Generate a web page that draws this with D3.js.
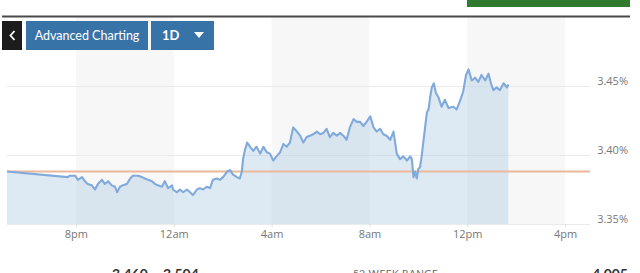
<!DOCTYPE html>
<html>
<head>
<meta charset="utf-8">
<script src="https://cdn.jsdelivr.net/npm/d3@7"></script>
<style>
  body { margin: 0; background: #fff; }
  svg { display: block; }
  .axis text { font-family: "Open Sans", sans-serif; font-size: 11px; fill: #777; }
  .btn { font-family: Lato, sans-serif; fill: #fff; }
</style>
</head>
<body>
<svg width="640" height="273"></svg>
<script>
const width = 640
const height = 273

// intraday yield, times (after 17:00 = first day, before = next day)
const times = ["17:11","19:40","19:45","19:58","20:05","20:15","20:22","20:29","20:39","20:47","20:54",
  "21:04","21:11","21:19","21:28","21:36","21:41","21:48","21:55","22:05","22:13","22:20","22:32",
  "22:42","22:49","22:57","23:07","23:14","23:21","23:31","23:38","23:46","23:56","23:58",
  "00:08","00:15","00:23","00:32","00:40","00:47","00:57","01:04","01:12","01:21","01:29","01:36",
  "01:46","01:53","02:01","02:11","02:18","02:25","02:35","02:42","02:47","02:50","02:55","03:00",
  "03:07","03:15","03:23","03:32","03:40","03:48","03:56","04:04","04:12","04:21","04:29","04:37",
  "04:45","04:53","05:02","05:10","05:18","05:26","05:34","05:42","05:51","05:59","06:07","06:15",
  "06:23","06:31","06:40","06:48","06:56","07:04","07:12","07:21","07:29","07:37","07:45","07:53",
  "08:02","08:10","08:18","08:26","08:34","08:42","08:51","08:59","09:07","09:15","09:23","09:32",
  "09:40","09:44","09:48","09:52","09:56","10:00","10:04","10:08","10:12","10:21","10:25","10:29",
  "10:33","10:38","10:43","10:49","10:57","11:05","11:14","11:26","11:34","11:42","11:50","11:57",
  "12:03","12:11","12:19","12:27","12:35","12:44","12:52","12:58","13:04","13:12","13:20","13:29",
  "13:37","13:41"]
const yields = [3.388,3.384,3.385,3.385,3.382,3.384,3.381,3.379,3.378,3.375,3.379,
  3.382,3.379,3.381,3.378,3.377,3.373,3.377,3.378,3.379,3.383,3.385,3.385,
  3.384,3.383,3.382,3.381,3.379,3.378,3.377,3.381,3.376,3.378,3.375,
  3.373,3.375,3.373,3.375,3.373,3.371,3.375,3.376,3.375,3.377,3.376,3.382,
  3.383,3.382,3.384,3.388,3.389,3.386,3.384,3.383,3.388,3.397,3.404,3.409,
  3.406,3.403,3.406,3.401,3.406,3.402,3.401,3.396,3.399,3.402,3.408,3.406,
  3.409,3.420,3.417,3.414,3.409,3.413,3.414,3.415,3.417,3.415,3.416,3.419,
  3.413,3.416,3.414,3.416,3.414,3.411,3.420,3.426,3.424,3.424,3.421,3.424,
  3.428,3.420,3.417,3.419,3.415,3.414,3.411,3.417,3.401,3.397,3.399,3.396,
  3.399,3.397,3.384,3.388,3.383,3.390,3.391,3.399,3.409,3.431,3.433,3.442,
  3.449,3.452,3.445,3.442,3.435,3.440,3.434,3.435,3.433,3.439,3.446,3.458,
  3.462,3.454,3.456,3.453,3.458,3.454,3.459,3.452,3.447,3.449,3.447,3.452,
  3.449,3.451]

const priorClose = 3.388
const domainStart = "17:11"
const domainEnd = "17:01"
const xTickTimes = ["20:00","00:00","04:00","08:00","12:00","16:00"]
const xTickLabels = ["8pm","12am","4am","8am","12pm","4pm"]
const yTicks = [3.35, 3.40, 3.45]
const dayRange = ["3.460", "3.504"]
const weekLabel = "52 WEEK RANGE"
const weekHigh = "4.005"

function toDate(s, forceNext){
  var p = s.split(":").map(Number)
  var day = (p[0] >= 17 && !forceNext) ? 1 : 2
  return new Date(2024, 0, day, p[0], p[1])
}

const svg = d3.select("svg")

const x = d3.scaleTime().domain([toDate(domainStart), toDate(domainEnd, true)]).range([7, 590])
const y = d3.scaleLinear().domain([3.35, 3.45]).range([224, 86])

const data = times.map(function(t, i){ return {date: toDate(t), v: yields[i]} })
const tickDates = xTickTimes.map(function(t){ return toDate(t) })

// alternating 4h bands
const bandG = svg.append("g")
for (var i = 0; i < tickDates.length - 1; i += 2) {
  bandG.append("rect")
    .attr("x", x(tickDates[i])).attr("y", 17)
    .attr("width", x(tickDates[i+1]) - x(tickDates[i])).attr("height", 224 - 17)
    .attr("fill", "#f7f7f7")
}

// grid
svg.append("g").attr("transform", "translate(590,0)")
  .call(d3.axisLeft(y).tickValues(yTicks).tickSize(583).tickFormat(""))
  .call(function(g){ g.select(".domain").remove() })
  .selectAll("line").attr("stroke", "#ebebeb")

// area + line
svg.append("path").datum(data)
  .attr("fill", "rgba(160,195,222,0.35)")
  .attr("d", d3.area().x(function(d){ return x(d.date) }).y0(y(3.35)).y1(function(d){ return y(d.v) }))

svg.append("line")
  .attr("x1", 7).attr("x2", 590).attr("y1", y(priorClose)).attr("y2", y(priorClose))
  .attr("stroke", "#ebb89c").attr("stroke-width", 2)

svg.append("path").datum(data)
  .attr("fill", "none").attr("stroke", "#80aadb").attr("stroke-width", 2.1)
  .attr("stroke-linejoin", "round")
  .attr("d", d3.line().x(function(d){ return x(d.date) }).y(function(d){ return y(d.v) }))

// axes
svg.append("g").attr("class", "axis").attr("transform", "translate(0,224)")
  .call(d3.axisBottom(x).tickValues(tickDates).tickSize(3).tickPadding(3)
    .tickFormat(function(d, i){ return xTickLabels[i] }))
  .call(function(g){ g.select(".domain").remove() })
  .call(function(g){ g.selectAll("line").attr("stroke", "#ddd") })

svg.append("g").attr("class", "axis").attr("transform", "translate(628,-5)")
  .call(d3.axisLeft(y).tickValues(yTicks).tickSize(0).tickPadding(0)
    .tickFormat(function(d){ return d3.format(".2f")(d) + "%" }))
  .call(function(g){ g.select(".domain").remove() })

// header
svg.append("rect").attr("x", 467).attr("y", 0).attr("width", 163).attr("height", 7).attr("fill", "#2f7a2c")
svg.append("line").attr("x1", 2).attr("x2", 630).attr("y1", 16.5).attr("y2", 16.5)
  .attr("stroke", "#4a4a4a").attr("stroke-width", 2)

svg.append("rect").attr("x", 2).attr("y", 21).attr("width", 20).attr("height", 29).attr("fill", "#1c1c1c")
svg.append("path").attr("d", "M14.5,31 L10.5,35.5 L14.5,40").attr("fill", "none")
  .attr("stroke", "#fff").attr("stroke-width", 1.8)

svg.append("rect").attr("x", 26).attr("y", 21).attr("width", 122).attr("height", 29).attr("fill", "#3873a8")
svg.append("text").attr("class", "btn").attr("x", 87).attr("y", 40).attr("text-anchor", "middle")
  .attr("font-size", 12.5).text("Advanced Charting")

svg.append("rect").attr("x", 151).attr("y", 21).attr("width", 63).attr("height", 29).attr("fill", "#3873a8")
svg.append("text").attr("class", "btn").attr("x", 162).attr("y", 40)
  .attr("font-size", 13).attr("font-weight", "bold").text("1D")
svg.append("path").attr("d", "M194,32 L204,32 L199,38 Z").attr("fill", "#fff")

// bottom stats, cut off by the frame as in the source
const statFont = "Lato, sans-serif"
svg.append("text").attr("x", 112).attr("y", 279).attr("font-family", statFont).attr("font-size", 14)
  .attr("font-weight", "bold").attr("fill", "#333").text(dayRange[0])
svg.append("text").attr("x", 163).attr("y", 279).attr("font-family", statFont).attr("font-size", 14)
  .attr("font-weight", "bold").attr("fill", "#333").text(dayRange[1])
svg.append("text").attr("x", 353).attr("y", 277).attr("font-family", statFont).attr("font-size", 10)
  .attr("fill", "#666").attr("letter-spacing", 0.5).text(weekLabel)
svg.append("text").attr("x", 628).attr("y", 279).attr("text-anchor", "end").attr("font-family", statFont)
  .attr("font-size", 14).attr("font-weight", "bold").attr("fill", "#333").text(weekHigh)
</script>
</body>
</html>
